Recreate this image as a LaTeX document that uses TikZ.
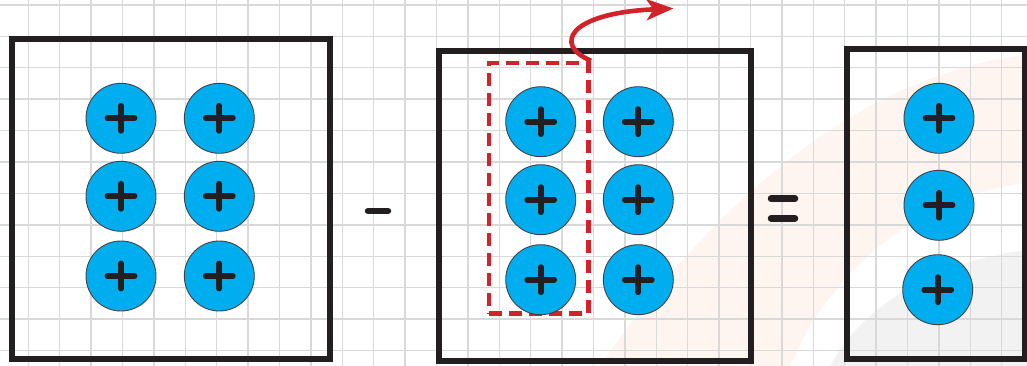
\documentclass[tikz,border=0pt]{standalone}
\usetikzlibrary{arrows.meta}
\definecolor{chargeblue}{HTML}{00AEEF}
\definecolor{inkdark}{HTML}{231F20}
\definecolor{markred}{HTML}{D2232A}
\definecolor{gridgray}{HTML}{D9D9D9}
\definecolor{peach}{HTML}{FEF4F0}
\definecolor{bandgray}{HTML}{F2F2F2}
\tikzset{
  charge/.style={circle, minimum size=70pt, inner sep=0pt, fill=chargeblue, draw=inkdark!85, line width=0.9pt,
    path picture={
      \draw[inkdark, line width=5.8pt, line cap=round]
        ([xshift=-13.5pt]path picture bounding box.center) -- ([xshift=13.5pt]path picture bounding box.center)
        ([yshift=-12.5pt]path picture bounding box.center) -- ([yshift=12.5pt]path picture bounding box.center);
    }},
  framebox/.style={draw=inkdark, line width=5.6pt, inner sep=0pt, outer sep=0pt},
  selbox/.style={draw=markred, line width=4.6pt, dash pattern=on 13pt off 7pt, inner sep=0pt},
  movearrow/.style={draw=markred, line width=4.6pt, -{Stealth[length=27pt, width=21pt, inset=7pt]}},
  opsign/.style={draw=inkdark, line width=6.5pt, line cap=round},
  gridline/.style={draw=gridgray, line width=1.4pt},
}
\begin{document}
\begin{tikzpicture}[x=1pt, y=-1pt]
\useasboundingbox (0,0) rectangle (1027,366);
\fill[white] (0,0) rectangle (1027,366);
% faint watermark bands
\fill[peach] (600,366) .. controls (700,220) and (850,75) .. (1027,55) -- (1027,183)
  .. controls (920,195) and (830,270) .. (790,366) -- cycle;
\fill[bandgray] (830,366) .. controls (860,310) and (930,262) .. (1027,250) -- (1027,366) -- cycle;
% grid
\foreach \k in {0,...,32} { \draw[gridline] ({28.3+31.4*\k},0) -- ({28.3+31.4*\k},366); }
\foreach \k in {0,...,11} { \draw[gridline] (0,{5+31.4*\k}) -- (1027,{5+31.4*\k}); }
% frames
\node[framebox, minimum width=318pt, minimum height=320pt] (f1) at (171,199) {};
\node[framebox, minimum width=312pt, minimum height=310pt] (f2) at (594.8,206.2) {};
\node[framebox, minimum width=178pt, minimum height=310pt] (f3) at (935.7,203.9) {};
% selection and arrow
\node[selbox, minimum width=99.7pt, minimum height=250.7pt] (sel) at (538.8,188.4) {};
\coordinate (tip) at (673.5,8.5);
\draw[movearrow] (sel.north east) .. controls (553,45) and (568,13) .. (tip);
% charges, frame 1
\node[charge] (a11) at (121,118.3) {};
\node[charge] (a12) at (219.3,118.3) {};
\node[charge] (a21) at (121,196.3) {};
\node[charge] (a22) at (219.3,196.3) {};
\node[charge] (a31) at (121,276) {};
\node[charge] (a32) at (219.3,276) {};
% charges, frame 2
\node[charge] (b11) at (540.7,121.7) {};
\node[charge] (b12) at (638.3,121.7) {};
\node[charge] (b21) at (540.7,199.7) {};
\node[charge] (b22) at (638.3,199.7) {};
\node[charge] (b31) at (540.7,279.7) {};
\node[charge] (b32) at (638.3,279.7) {};
% charges, frame 3
\node[charge] (c1) at (939,118.3) {};
\node[charge] (c2) at (939,205.3) {};
\node[charge] (c3) at (937.7,289.7) {};
% operators
\draw[opsign] (368,211) -- (388,211);
\draw[opsign] (771,198.7) -- (795,198.7);
\draw[opsign] (771,218.3) -- (795,218.3);
\end{tikzpicture}
\end{document}
